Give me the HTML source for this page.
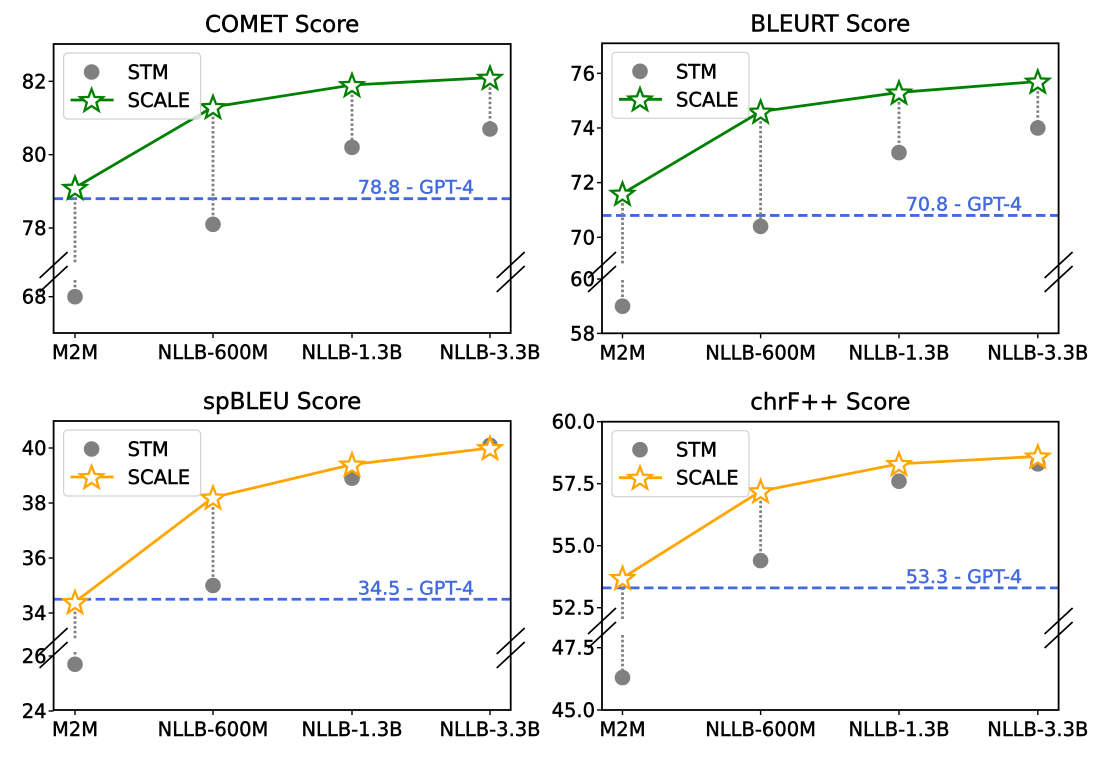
<!DOCTYPE html>
<html><head><meta charset="utf-8"><style>
html,body{margin:0;padding:0;background:#fff;}
svg{display:block;font-family:"DejaVu Sans","Liberation Sans",sans-serif;}
</style></head><body>
<svg id="fig" width="1104" height="758" viewBox="0 0 1104 758" xmlns="http://www.w3.org/2000/svg"></svg>
<script>
const categories = ["M2M","NLLB-600M","NLLB-1.3B","NLLB-3.3B"];
const cometScale = [79.1, 81.3, 81.9, 82.1];
const cometStm = [68.0, 78.1, 80.2, 80.7];
const cometGpt = 78.8;
const bleurtScale = [71.6, 74.6, 75.3, 75.7];
const bleurtStm = [59.0, 70.4, 73.1, 74.0];
const bleurtGpt = 70.8;
const spbleuScale = [34.4, 38.2, 39.4, 40.0];
const spbleuStm = [25.7, 35.0, 38.9, 40.1];
const spbleuGpt = 34.5;
const chrfScale = [53.7, 57.2, 58.3, 58.6];
const chrfStm = [46.3, 54.4, 57.6, 58.3];
const chrfGpt = 53.3;
const cometUpperTicks = [78, 80, 82];
const cometLowerTicks = [68];
const bleurtUpperTicks = [70, 72, 74, 76];
const bleurtLowerTicks = [58, 60];
const spbleuUpperTicks = [34, 36, 38, 40];
const spbleuLowerTicks = [24, 26];
const chrfUpperTicks = [52.5, 55.0, 57.5, 60.0];
const chrfLowerTicks = [45.0, 47.5];

const NS = "http://www.w3.org/2000/svg";
const svg = document.getElementById("fig");
function el(tag, attrs, parent, text){
  const e = document.createElementNS(NS, tag);
  for (const k in attrs) e.setAttribute(k, attrs[k]);
  if (text !== undefined) e.textContent = text;
  (parent || svg).appendChild(e);
  return e;
}
function starPts(cx, cy, R){
  const r = R*0.42; let p=[];
  for(let i=0;i<10;i++){const a=-Math.PI/2+i*Math.PI/5;const rr=i%2?r:R;p.push((cx+rr*Math.cos(a)).toFixed(1)+","+(cy+rr*Math.sin(a)).toFixed(1));}
  return p.join(" ");
}
const TXT = {"stroke-width":0.45};

const panels = [
 {key:"comet", title:"COMET Score", scale:cometScale, stm:cometStm, gpt:cometGpt, color:"#008000",
  L:53.6, R:510.7, T:44, B:333, xs:[75,213,352,490],
  up:{v0:78,y0:228,k:36.67}, lo:{v0:68,y0:296.7,k:36.33}, breakUp:263, breakLo:280, breakMid:272,
  upTicks:cometUpperTicks, loTicks:cometLowerTicks, dec:0},
 {key:"bleurt", title:"BLEURT Score", scale:bleurtScale, stm:bleurtStm, gpt:bleurtGpt, color:"#008000",
  L:602, R:1058.6, T:43.3, B:333.3, xs:[622.5,760.6,899,1037.8],
  up:{v0:70,y0:237.3,k:27.33}, lo:{v0:60,y0:279,k:27.2}, breakUp:265, breakLo:280, breakMid:272,
  upTicks:bleurtUpperTicks, loTicks:bleurtLowerTicks, dec:0},
 {key:"spbleu", title:"spBLEU Score", scale:spbleuScale, stm:spbleuStm, gpt:spbleuGpt, color:"#FFA500",
  L:53.6, R:510.7, T:421, B:710, xs:[75,213,352,490],
  up:{v0:34,y0:613,k:27.5}, lo:{v0:26,y0:656,k:27.5}, breakUp:640, breakLo:652, breakMid:648,
  upTicks:spbleuUpperTicks, loTicks:spbleuLowerTicks, dec:0},
 {key:"chrf", title:"chrF++ Score", scale:chrfScale, stm:chrfStm, gpt:chrfGpt, color:"#FFA500",
  L:602, R:1058.6, T:421.7, B:710, xs:[622.5,760.6,899,1037.8],
  up:{v0:52.5,y0:607.7,k:24.8}, lo:{v0:47.5,y0:647.7,k:24.9}, breakUp:620, breakLo:635, breakMid:628,
  upTicks:chrfUpperTicks, loTicks:chrfLowerTicks, dec:1}
];

panels.forEach(p=>{
  const g = el("g", {});
  
  
  const lowMax = p.lo.v0 + (p.lo.y0 - p.breakLo)/p.lo.k;
  const yScale = v => v > lowMax + 0.3 ? p.up.y0 - (v - p.up.v0)*p.up.k : p.lo.y0 - (v - p.lo.v0)*p.lo.k;
  const isLow = v => !(v > lowMax + 0.3);
  const t = el("text", Object.assign({x:(p.L+p.R)/2, y:p.T-12, "text-anchor":"middle", "font-size":"23", fill:"#000", stroke:"#000"},TXT), g, p.title);
  
  
  p.upTicks.concat(p.loTicks).forEach(v=>{
    const y = p.upTicks.includes(v) ? p.up.y0-(v-p.up.v0)*p.up.k : p.lo.y0-(v-p.lo.v0)*p.lo.k;
    el("line",{x1:p.L-5,x2:p.L,y1:y,y2:y,stroke:"#000","stroke-width":1.4},g);
    const tl = el("text",Object.assign({x:p.L-7,y:y+7,"text-anchor":"end","font-size":"19.5",fill:"#000",stroke:"#000"},TXT),g,v.toFixed(p.dec));
    
    
  });
  categories.forEach((c,i)=>{
    const x = p.xs[i];
    el("line",{x1:x,x2:x,y1:p.B,y2:p.B+5,stroke:"#000","stroke-width":1.4},g);
    const xl = el("text",Object.assign({x:x,y:p.B+26,"text-anchor":"middle","font-size":"19.5",fill:"#000",stroke:"#000"},TXT),g,c);
    
    
  });
  const gy = yScale(p.gpt);
  const gl = el("line",{x1:p.L,x2:p.R,y1:gy,y2:gy,stroke:"#4169E1","stroke-width":2.8,"stroke-dasharray":"9.5,4.5"},g);
  
  
  const gt = el("text",Object.assign({x:p.L+(p.R-p.L)*0.92,y:gy-5,"text-anchor":"end","font-size":"19",fill:"#4169E1",stroke:"#4169E1"},TXT),g,p.gpt.toFixed(1)+" - GPT-4");
  
  
  categories.forEach((c,i)=>{
    const x=p.xs[i], ys=yScale(p.scale[i]), ym=yScale(p.stm[i]);
    const st={stroke:"#808080","stroke-width":2.8,"stroke-dasharray":"2.6,2.2"};
    if (isLow(p.stm[i])) {
      el("line",Object.assign({x1:x,x2:x,y1:ys,y2:p.breakUp},st),g);
      if (ym > p.breakLo+2) el("line",Object.assign({x1:x,x2:x,y1:p.breakLo,y2:ym},st),g);
    } else {
      el("line",Object.assign({x1:x,x2:x,y1:ys,y2:ym},st),g);
    }
  });
  categories.forEach((c,i)=>{
    const d = el("circle",{cx:p.xs[i],cy:yScale(p.stm[i]),r:7.8,fill:"#808080"},g);
    
    
  });
  const pts = categories.map((c,i)=>p.xs[i]+","+yScale(p.scale[i])).join(" ");
  const pl = el("polyline",{points:pts,fill:"none",stroke:p.color,"stroke-width":2.8},g);
  
  
  categories.forEach((c,i)=>{
    const s = el("polygon",{points:starPts(p.xs[i],yScale(p.scale[i])+1,12),fill:"#fff",stroke:p.color,"stroke-width":2.3},g);
    
    
  });
  el("rect",{x:p.L,y:p.T,width:p.R-p.L,height:p.B-p.T,fill:"none",stroke:"#000","stroke-width":1.8},g);
  [p.L, p.R].forEach(bx=>{
    [-7,7].forEach(off=>{
      el("line",{x1:bx-14,y1:p.breakMid+off+13,x2:bx+14,y2:p.breakMid+off-13,stroke:"#000","stroke-width":1.7},g);
    });
  });
  const lg = el("g",{},g);
  
  
  const lx=p.L+10, ly=p.T+9;
  el("rect",{x:lx,y:ly,width:137,height:66,rx:4,fill:"#fff","fill-opacity":0.8,stroke:"#d0d0d0","stroke-width":1.2},lg);
  el("circle",{cx:lx+28,cy:ly+19,r:7.8,fill:"#808080"},lg);
  el("text",Object.assign({x:lx+64,y:ly+26,"font-size":"19.5",fill:"#000",stroke:"#000"},TXT),lg,"STM");
  el("line",{x1:lx+7,x2:lx+50,y1:ly+47,y2:ly+47,stroke:p.color,"stroke-width":2.8},lg);
  el("polygon",{points:starPts(lx+28,ly+48,12),fill:"#fff",stroke:p.color,"stroke-width":2.3},lg);
  el("text",Object.assign({x:lx+64,y:ly+54,"font-size":"19.5",fill:"#000",stroke:"#000"},TXT),lg,"SCALE");
});
</script>
</body></html>
